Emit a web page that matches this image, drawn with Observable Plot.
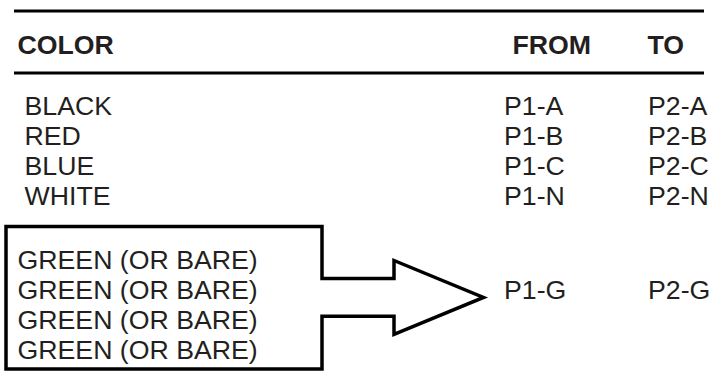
<!DOCTYPE html>
<html>
<head>
<meta charset="utf-8">
<script src="https://cdn.jsdelivr.net/npm/d3@7"></script>
<script src="https://cdn.jsdelivr.net/npm/@observablehq/plot@0.6"></script>
<style>
  html, body { margin: 0; padding: 0; background: #fff; }
</style>
</head>
<body>
<div id="chart"></div>
<script>
// ---- data ----
const headers = ["COLOR", "FROM", "TO"];
const wireColors = ["BLACK", "RED", "BLUE", "WHITE"];
const fromPins = ["P1-A", "P1-B", "P1-C", "P1-N"];
const toPins = ["P2-A", "P2-B", "P2-C", "P2-N"];
const groundColors = ["GREEN (OR BARE)", "GREEN (OR BARE)", "GREEN (OR BARE)", "GREEN (OR BARE)"];
const groundFrom = ["P1-G"];
const groundTo = ["P2-G"];

// ---- layout (row units on y, pixels on x) ----
const ink = "#231f20";
const font = "'Liberation Sans', Arial, Helvetica, sans-serif";
const rowHeader = -0.05;
const rowFirst = 2;          // first wire row
const rowGround = 7.12;      // first green row
const groundPinRow = rowGround + 1;
const colHeaderX = [17, 512, 647];
const colRowX = {color: 24, ground: 17, from: 503.5, to: 647.5};
const ruleRows = [-1.47, 0.6];
const ruleX = [14, 704];

// box + arrow outline, in (x px, row units)
const boxL = 5.5, boxR = 321.5, boxT = rowGround - 1.4, boxB = rowGround + 3.35;
const arrowMid = groundPinRow - 0.04;
const notch = 0.63, head = 1.23, headX = 393.5, tipX = 483;
const outline = [
  [160, boxT], [boxL, boxT], [boxL, boxB], [boxR, boxB], [boxR, arrowMid + notch],
  [headX, arrowMid + notch], [headX, arrowMid + head], [tipX, arrowMid],
  [headX, arrowMid - head], [headX, arrowMid - notch], [boxR, arrowMid - notch],
  [boxR, boxT], [160, boxT]
].map(([x, k]) => ({x, k}));

const textOpts = {textAnchor: "start", lineAnchor: "bottom", fontSize: 26.7, fill: ink, fontFamily: font};

const chart = Plot.plot({
  width: 713,
  height: 383,
  margin: 0,
  x: {type: "linear", domain: [0, 713], range: [0, 713], axis: null},
  y: {type: "linear", domain: [0, 10], range: [54.5, 354.5], axis: null},
  style: {background: "#fff", fontFamily: font, overflow: "visible"},
  marks: [
    Plot.ruleY(ruleRows, {y: d => d, x1: () => ruleX[0], x2: () => ruleX[1], stroke: "#000", strokeWidth: 3}),
    Plot.text(headers, {...textOpts, x: (d, i) => colHeaderX[i], y: () => rowHeader, text: d => d, fontWeight: "bold"}),
    Plot.text(wireColors, {...textOpts, x: () => colRowX.color, y: (d, i) => rowFirst + i, text: d => d}),
    Plot.text(fromPins, {...textOpts, x: () => colRowX.from, y: (d, i) => rowFirst + i, text: d => d}),
    Plot.text(toPins, {...textOpts, x: () => colRowX.to, y: (d, i) => rowFirst + i, text: d => d}),
    Plot.text(groundColors, {...textOpts, x: () => colRowX.ground, y: (d, i) => rowGround + i, text: d => d}),
    Plot.text(groundFrom, {...textOpts, x: () => colRowX.from, y: () => groundPinRow, text: d => d}),
    Plot.text(groundTo, {...textOpts, x: () => colRowX.to, y: () => groundPinRow, text: d => d}),
    Plot.line(outline, {x: "x", y: "k", stroke: "#000", strokeWidth: 3.5, strokeLinejoin: "miter", strokeLinecap: "butt", strokeMiterlimit: 10, fill: "none"})
  ]
});
document.getElementById("chart").appendChild(chart);
</script>
</body>
</html>
